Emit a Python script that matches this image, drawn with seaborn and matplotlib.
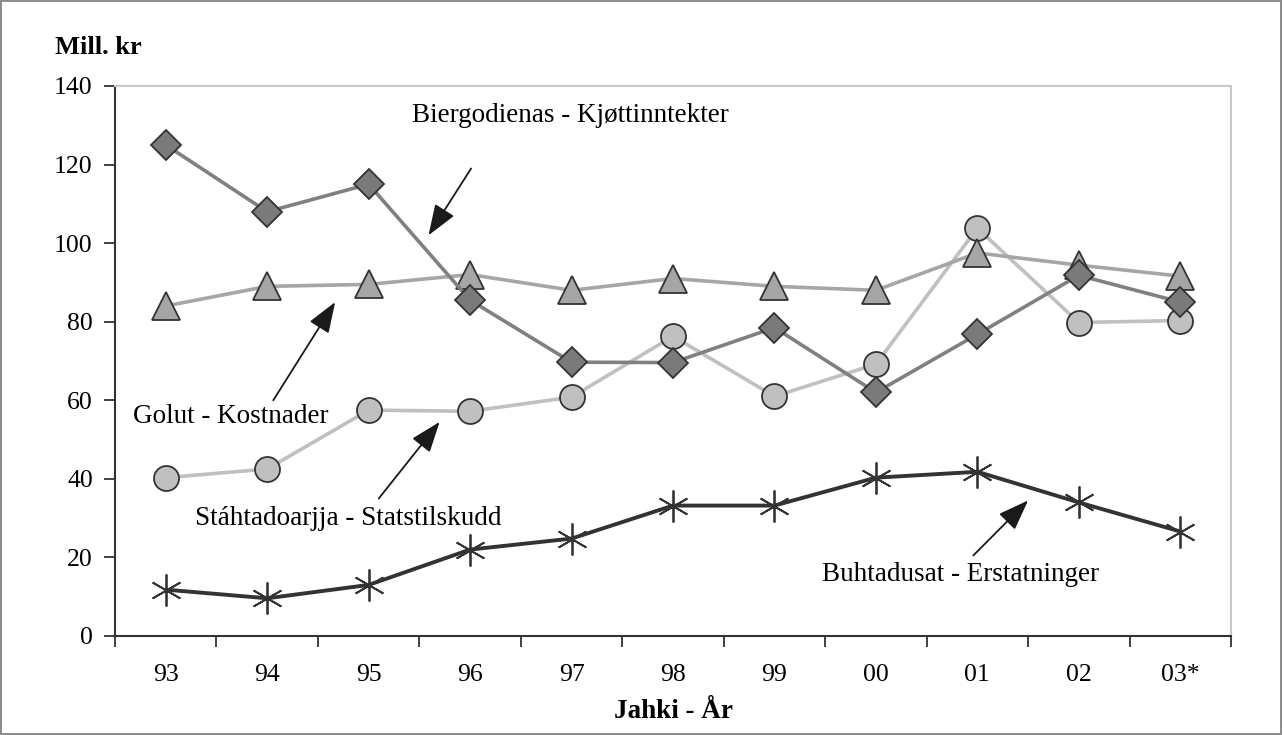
import numpy as np
import pandas as pd
import seaborn as sns
import matplotlib.pyplot as plt
from matplotlib.patches import Rectangle

# data
years = ["93", "94", "95", "96", "97", "98", "99", "00", "01", "02", "03*"]
kjott = [125, 108, 115, 85.5, 69.7, 69.6, 78.5, 62, 76.8, 91.8, 85]
kostnader = [84, 89, 89.5, 92, 88, 91, 89, 88, 97.5, 94.4, 91.6]
tilskudd = [40.3, 42.5, 57.5, 57.2, 60.8, 76.3, 61, 69.2, 103.8, 79.8, 80.3]
erstatning = [11.8, 9.6, 13, 22, 24.8, 33.2, 33.2, 40.3, 41.8, 34, 26.6]

labels = ["Biergodienas - Kjøttinntekter", "Golut - Kostnader",
          "Stáhtadoarjja - Statstilskudd", "Buhtadusat - Erstatninger"]

df = pd.DataFrame({"pos": np.arange(len(years)), "year": years,
                   "kjott": kjott, "kostnader": kostnader,
                   "tilskudd": tilskudd, "erstatning": erstatning})

sns.set_style("white", {"text.color": "black", "xtick.color": "black", "ytick.color": "black"})
plt.rcParams['font.family'] = ['Liberation Serif', 'DejaVu Serif']

fig = plt.figure(figsize=(12.84, 7.35), dpi=100)
ax = fig.add_axes([115/1284, 1-636/735, 1116/1284, 550/735])

# series: column, line colour, marker, marker fill, marker size, line width
styles = [
    ("tilskudd", "#c0c0c0", "o", "#c0c0c0", 18, 2.6),
    ("kostnader", "#a6a6a6", "^", "#a6a6a6", 20, 2.6),
    ("kjott", "#808080", "D", "#7a7a7a", 15.5, 2.6),
    ("erstatning", "#333333", (6, 2, 0), "#333333", 23, 2.8),
]
for col, lc, mk, fc, ms, lw in styles:
    sns.lineplot(data=df, x="pos", y=col, ax=ax, color=lc, linewidth=lw,
                 marker=mk, markersize=ms, markerfacecolor=fc,
                 markeredgecolor="#333333", markeredgewidth=1.3)

ax.set_xlim(-0.5, len(years) - 0.5)
ax.set_ylim(0, 140)
ax.set_yticks(range(0, 141, 20))
ax.set_xticks(df["pos"])
ax.set_xticklabels(years)
ax.set_xticks(np.arange(-0.5, len(years), 1), minor=True)
ax.tick_params(axis="x", which="major", length=0, pad=20, labelsize=18.5, labelcolor="black")
ax.tick_params(axis="x", which="minor", length=8, width=1.3, color="#333333", direction="out", bottom=True)
ax.tick_params(axis="y", length=8, width=1.3, color="#333333", direction="out", left=True,
               labelsize=18.5, pad=8, labelcolor="black")
ax.set_xlabel("")
ax.set_ylabel("")

for s in ["left", "bottom"]:
    ax.spines[s].set_color("#333333")
    ax.spines[s].set_linewidth(1.5)
for s in ["top", "right"]:
    ax.spines[s].set_color("#c8c8c8")
    ax.spines[s].set_linewidth(1.5)

arrow = dict(arrowstyle="-|>,head_length=1.9,head_width=0.7", color="#1a1a1a", lw=1.3, shrinkA=0, shrinkB=0)
ax.annotate("", xy=(2.59, 102), xytext=(3.01, 119), arrowprops=arrow)
ax.annotate("", xy=(1.67, 85), xytext=(1.06, 60), arrowprops=arrow)
ax.annotate("", xy=(2.70, 54.5), xytext=(2.10, 35), arrowprops=arrow)
ax.annotate("", xy=(8.50, 34.5), xytext=(7.96, 20.5), arrowprops=arrow)

ax.text(2.43, 132.5, labels[0], fontsize=19.5, va="center", ha="left", color="black")
ax.text(-0.32, 56.0, labels[1], fontsize=19.5, va="center", ha="left", color="black")
ax.text(0.29, 30.0, labels[2], fontsize=19.5, va="center", ha="left", color="black")
ax.text(6.47, 15.6, labels[3], fontsize=19.5, va="center", ha="left", color="black")

fig.text(55/1284, 1-47/735, "Mill. kr", fontsize=19, fontweight="bold", va="center", ha="left", color="black")
fig.text(674/1284, 1-711/735, "Jahki - År", fontsize=19.5, fontweight="bold", va="center", ha="center", color="black")

fig.patches.append(Rectangle((0.001, 0.002), 0.997, 0.996, transform=fig.transFigure,
                             fill=False, edgecolor="#777777", linewidth=1.2))

fig.savefig("out.png", dpi=100)
